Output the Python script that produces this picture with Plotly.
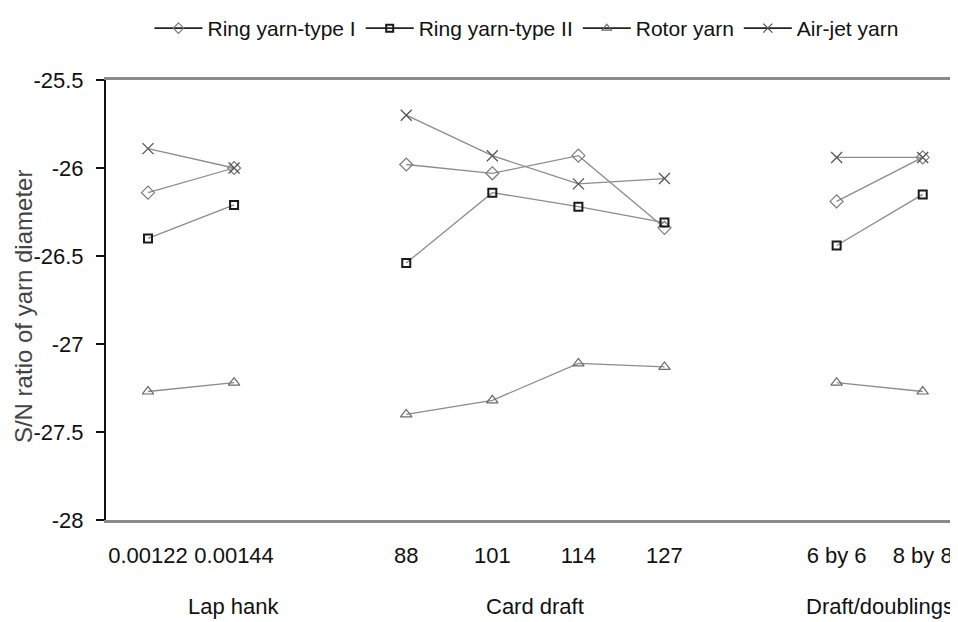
import plotly.graph_objects as go

# ---- data ----
categories = ["0.00122", "0.00144", "88", "101", "114", "127", "6 by 6", "8 by 8"]
category_group = [0, 0, 1, 1, 1, 1, 2, 2]
group_names = ["Lap hank", "Card draft", "Draft/doublings"]

ring_type1 = [-26.14, -26.00, -25.98, -26.03, -25.93, -26.34, -26.19, -25.94]
ring_type2 = [-26.40, -26.21, -26.54, -26.14, -26.22, -26.31, -26.44, -26.15]
rotor = [-27.27, -27.22, -27.40, -27.32, -27.11, -27.13, -27.22, -27.27]
air_jet = [-25.89, -26.00, -25.70, -25.93, -26.09, -26.06, -25.94, -25.94]

y_ticks = [-25.5, -26, -26.5, -27, -27.5, -28]

# ---- build category slots with blank spacers between groups ----
def with_gaps(values):
    xs, ys = [], []
    prev = None
    spacer = 0
    for c, g, v in zip(categories, category_group, values):
        if prev is not None and g != prev:
            spacer += 1
            xs.append(" " * spacer)
            ys.append(None)
        xs.append(c)
        ys.append(v)
        prev = g
    return xs, ys

FONT = "Liberation Sans, Arial, sans-serif"
LINE = "#8c8c8c"
FS = 22

series = [
    ("Ring yarn-type I", ring_type1, dict(symbol="diamond-open", size=10, color="#7a7a7a", line=dict(width=1.2))),
    ("Ring yarn-type II", ring_type2, dict(symbol="square-open", size=8, color="#1a1a1a", line=dict(width=2))),
    ("Rotor yarn", rotor, dict(symbol="triangle-up-open", size=10, color="#6a6a6a", line=dict(width=1.2))),
    ("Air-jet yarn", air_jet, dict(symbol="x-thin-open", size=11, color="#555555", line=dict(width=1.3))),
]

fig = go.Figure()
x_all = None
for name, vals, mk in series:
    xs, ys = with_gaps(vals)
    x_all = xs
    fig.add_trace(go.Scatter(
        x=xs, y=ys, name=name, mode="lines+markers",
        connectgaps=False, showlegend=False, legendgroup=name,
        line=dict(color=LINE, width=1.3),
        marker=mk,
    ))
# legend entries drawn with dark lines as in the reference
for name, vals, mk in series:
    fig.add_trace(go.Scatter(
        x=[None], y=[None], name=name, mode="lines+markers", legendgroup=name,
        line=dict(color="#222222", width=1.6),
        marker=dict(mk, size=max(mk["size"] - 2, 7)),
    ))

# group label positions (slot index)
group_label_x = [1, 4.5, 8.5]
for gname, gx in zip(group_names, group_label_x):
    fig.add_annotation(x=gx, y=-0.197, xref="x", yref="paper", text=gname,
                       showarrow=False, yanchor="middle", xanchor="center",
                       font=dict(family=FONT, size=FS, color="#111"))

# y-axis title as rotated annotation
fig.add_annotation(x=-0.0974, y=0.484, xref="paper", yref="paper",
                   text="S/N ratio of yarn diameter", textangle=-90, showarrow=False,
                   xanchor="center", yanchor="middle",
                   font=dict(family=FONT, size=24, color="#444"))

# page body has an 8px default margin: size the figure so the plot lands where the reference has it
fig.update_layout(
    width=950, height=614,
    margin=dict(l=98, r=0, t=65, b=102),
    paper_bgcolor="white", plot_bgcolor="white",
    font=dict(family=FONT, size=FS, color="#111"),
    showlegend=True,
    legend=dict(orientation="h", x=0.4935, xanchor="center", y=1.118, yanchor="middle",
                font=dict(family=FONT, size=21, color="#111"),
                itemwidth=48, bgcolor="rgba(0,0,0,0)", traceorder="normal"),
    yaxis=dict(range=[-28, -25.5], tickvals=y_ticks, ticktext=[str(v) for v in y_ticks],
               ticks="outside", ticklen=8, tickwidth=1.5, tickcolor="#111",
               showline=True, linecolor="#111", linewidth=2, showgrid=False, zeroline=False,
               automargin=False, ticklabelstandoff=8,
               tickfont=dict(family=FONT, size=FS, color="#111")),
    xaxis=dict(type="category", categoryorder="array", categoryarray=x_all,
               range=[-0.488, 9.41], ticks="", showline=True, mirror=True,
               linecolor="#8a8a8a", linewidth=3, showgrid=False, zeroline=False,
               automargin=False, tickangle=0, ticklabelstandoff=14,
               tickfont=dict(family=FONT, size=FS, color="#111")),
)

fig.write_html("out.html")
